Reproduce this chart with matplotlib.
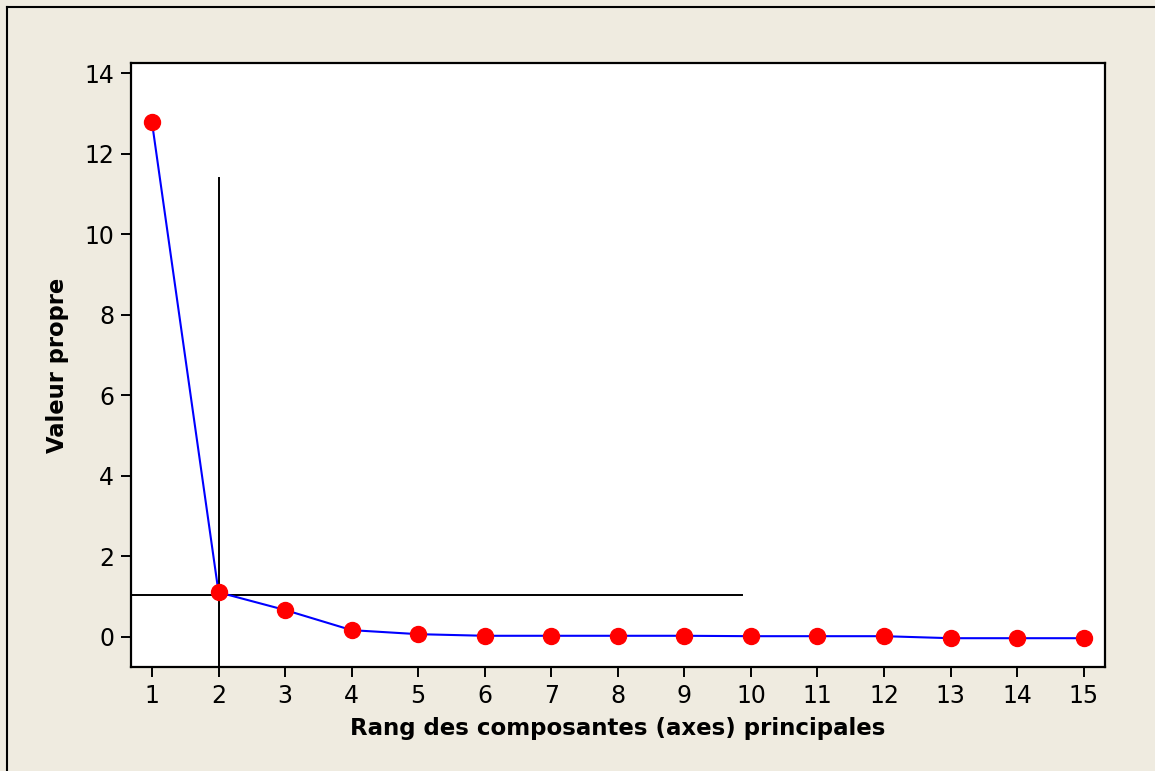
import matplotlib.pyplot as plt
from matplotlib.lines import Line2D

# valeurs propres
rangs = list(range(1, 16))
valeurs = [12.78, 1.11, 0.67, 0.17, 0.07, 0.03, 0.03, 0.03, 0.03, 0.02, 0.02, 0.02, -0.03, -0.03, -0.03]

seuil_y = 1.04      # ligne horizontale (critère de Kaiser)
seuil_x_fin = 9.86
coude_x = 2.0       # ligne verticale
coude_y_haut = 11.4

fond = "#efebe0"
plt.rcParams["font.family"] = ["DejaVu Sans"]

fig = plt.figure(figsize=(11.55, 7.71), dpi=100, facecolor=fond)
ax = fig.add_axes([131 / 1155, 1 - 667 / 771, (1105 - 131) / 1155, (667 - 63) / 771])
ax.set_facecolor("white")

ax.plot(rangs, valeurs, color="blue", lw=1.5, zorder=2)
ax.plot(rangs, valeurs, "o", color="red", ms=11.5, zorder=3)

ax.plot([0.685, seuil_x_fin], [seuil_y, seuil_y], color="black", lw=1.4, zorder=1)
ax.plot([coude_x, coude_x], [-0.745, coude_y_haut], color="black", lw=1.4, zorder=1)

ax.set_xlim(0.685, 15.32)
ax.set_ylim(-0.745, 14.25)
ax.set_xticks(rangs)
ax.set_yticks([0, 2, 4, 6, 8, 10, 12, 14])
ax.tick_params(direction="out", length=7, width=1.4, labelsize=17, pad=5)
for s in ax.spines.values():
    s.set_linewidth(1.6)

ax.set_xlabel("Rang des composantes (axes) principales", fontsize=16.5, fontweight="bold", labelpad=7)
ax.set_ylabel("Valeur propre", fontsize=16.3, fontweight="bold", labelpad=11)

# cadre de la figure (haut et gauche)
fig.add_artist(Line2D([7 / 1155, 1], [1 - 7 / 771, 1 - 7 / 771], color="black", lw=1.5, transform=fig.transFigure))
fig.add_artist(Line2D([7 / 1155, 7 / 1155], [0, 1 - 7 / 771], color="black", lw=1.5, transform=fig.transFigure))

fig.savefig("out.png", dpi=100, facecolor=fond)
